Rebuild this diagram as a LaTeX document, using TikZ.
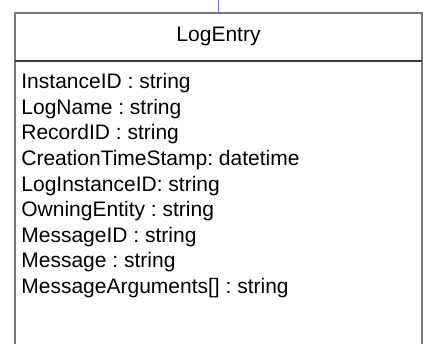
\documentclass[tikz,border=0pt]{standalone}
\usepackage{fontspec}
\setmainfont{Liberation Sans}
\usetikzlibrary{positioning}
\frenchspacing

\definecolor{classborder}{RGB}{120,120,120}
\definecolor{classsep}{RGB}{60,60,60}
\definecolor{linkblue}{RGB}{110,110,255}

\begin{document}
\begin{tikzpicture}[
    x=1pt, y=1pt,
    font=\fontsize{21}{25.6}\selectfont,
    % Styles
    titlebox/.style={rectangle, draw=classborder, line width=2pt, fill=white, outer sep=0pt, minimum width=407pt, minimum height=48pt, text height=13.5pt, text depth=5pt, inner sep=0pt},
    attrbox/.style={rectangle, draw=classborder, line width=2pt, fill=white, outer sep=0pt, minimum width=407pt, minimum height=320pt},
    attr/.style={inner sep=0pt, outer sep=0pt, text height=18.5pt, text depth=7.1pt, anchor=north west},
    sepline/.style={draw=classsep, line width=2pt},
    assoc/.style={draw=linkblue, line width=1.8pt}
]
\useasboundingbox (0,0) rectangle (423,344);
\clip (0,0) rectangle (423,344);

% ------------------- CLASS BOX -------------------
\node[titlebox] (logentry) at (218.5,306.5) {LogEntry};
\node[attrbox, below=0pt of logentry] (attrs) {};
\draw[sepline] (logentry.south west) -- (logentry.south east);

% ------------------- ATTRIBUTES -------------------
\node[attr] (a1) at (21.4,273.8) {InstanceID : string};
\node[attr, below right=0pt and 0pt of a1.south west] (a2) {LogName : string};
\node[attr, below right=0pt and 0pt of a2.south west] (a3) {RecordID : string};
\node[attr, below right=0pt and 0pt of a3.south west] (a4) {CreationTimeStamp: datetime};
\node[attr, below right=0pt and 0pt of a4.south west] (a5) {LogInstanceID: string};
\node[attr, below right=0pt and 0pt of a5.south west] (a6) {OwningEntity : string};
\node[attr, below right=0pt and 0pt of a6.south west] (a7) {MessageID : string};
\node[attr, below right=0pt and 0pt of a7.south west] (a8) {Message : string};
\node[attr, below right=0pt and 0pt of a8.south west] (a9) {MessageArguments[] : string};

% Link from above
\coordinate (linktop) at (218.5,344);
\draw[assoc] (linktop) -- (logentry);

\end{tikzpicture}
\end{document}
